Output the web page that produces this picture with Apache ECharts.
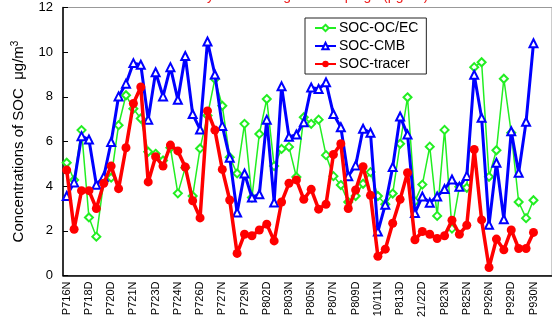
<!DOCTYPE html>
<html><head><meta charset="utf-8">
<script src="https://cdn.jsdelivr.net/npm/echarts@6/dist/echarts.min.js"></script>
<style>html,body{margin:0;padding:0;background:#fff}#c{width:552px;height:320px}</style>
</head><body><div id="c"></div>
<script>
const tickLabels = ['P716N','P718D','P720D','P721N','P723D','P724N','P726D','P727N','P729N','P802D','P803N','P805N','P807N','P809D','10/11N','P813D','21/22D','P823N','P825N','P926N','P929D','P930N'];
const socOCEC = [5.05,4.28,6.51,2.6,1.74,4.2,4.38,6.73,8.07,7.47,7.03,5.54,5.45,5.15,5.72,3.68,4.83,3.56,5.69,7.16,8.8,7.6,5.3,4.57,6.79,3.49,6.34,7.9,4.9,5.67,5.76,4.41,7.09,6.79,6.98,5.39,4.45,4.05,3.29,3.56,4.11,4.63,3.56,3.19,3.67,5.9,7.98,3.32,4.07,5.77,2.67,6.52,2.1,3.97,3.93,9.33,9.55,4.42,5.61,8.81,6.39,3.29,2.57,3.37];
const socCMB = [3.56,4.17,6.24,6.09,4.06,4.42,5.98,8.02,8.59,9.51,9.44,6.98,9.1,8.02,9.33,7.87,9.83,7.23,6.54,10.48,9.0,6.7,5.27,2.82,4.57,3.49,3.64,6.98,3.27,8.47,6.21,6.31,6.86,8.42,8.35,8.65,7.23,6.64,4.45,4.93,6.57,6.39,1.97,3.17,4.86,7.12,6.31,2.8,3.54,3.26,3.54,3.87,4.3,3.97,4.46,8.99,7.06,2.27,5.05,2.52,6.46,4.6,6.88,10.4];
const socTracer = [4.72,2.07,3.8,3.8,3.0,4.13,4.9,3.89,5.72,7.7,8.44,4.19,5.32,4.9,5.84,5.58,4.86,3.35,2.58,7.37,6.51,4.75,3.38,0.99,1.85,1.78,2.04,2.3,1.55,3.29,4.13,4.28,3.41,3.86,2.97,3.19,5.42,5.9,3.0,3.83,4.87,3.59,0.86,1.18,2.34,3.41,4.6,1.6,1.97,1.85,1.66,1.78,2.48,1.85,2.25,5.64,2.49,0.36,1.63,1.15,2.04,1.21,1.21,1.93];
const yTicks = [0,2,4,6,8,10,12];

const nCat = 66;
const categories = [];
for (let i = 0; i < nCat; i++) categories.push(i % 3 === 0 && tickLabels[i/3] ? tickLabels[i/3] : '');

const font = 'Liberation Sans, Arial, sans-serif';
const chart = echarts.init(document.getElementById('c'));
chart.setOption({
  animation: false,
  backgroundColor: '#fff',
  textStyle: {fontFamily: font},
  graphic: [{
    type: 'text', left: 183, top: -11,
    style: {text: 'Daily SOC during the campaign (μg/m³)', fill: '#ee2222', font: '14px ' + font}
  }],
  grid: {left: 63, top: 7.5, bottom: 43.5, right: -1, show: true, borderColor: '#999', borderWidth: 1},
  legend: {
    orient: 'vertical', left: 305, top: 18,
    backgroundColor: '#fff', borderColor: '#222', borderWidth: 1,
    padding: [2, 8, 2, 9], itemGap: 2, itemWidth: 21, itemHeight: 8,
    textStyle: {fontSize: 14, lineHeight: 16, color: '#000', fontFamily: font, padding: [0, 0, 0, -2]},
    data: ['SOC-OC/EC','SOC-CMB','SOC-tracer']
  },
  xAxis: {
    type: 'category', data: categories, boundaryGap: true,
    axisLine: {lineStyle: {color: '#000', width: 1.5}},
    axisTick: {inside: true, length: 5, interval: 1, lineStyle: {color: '#000'}},
    axisLabel: {interval: 2, rotate: 90, fontSize: 11, color: '#000', margin: 6, fontFamily: font},
    splitLine: {show: false}
  },
  yAxis: {
    type: 'value', min: yTicks[0], max: yTicks[yTicks.length-1], interval: 2,
    name: 'Concentrations of SOC  μg/m{sup|3}', nameLocation: 'middle', nameGap: 35,
    nameTextStyle: {fontSize: 15, color: '#000', fontFamily: font, rich: {sup: {fontSize: 10, verticalAlign: 'top', padding: [0,0,8,0]}}},
    axisLine: {show: true, lineStyle: {color: '#000', width: 1.5}},
    axisTick: {show: true, inside: true, length: 5, lineStyle: {color: '#000'}},
    axisLabel: {fontSize: 13, color: '#000', margin: 10, fontFamily: font},
    splitLine: {show: false}
  },
  series: [
    {name: 'SOC-OC/EC', type: 'line', data: socOCEC, symbol: 'emptyDiamond', symbolSize: 8, showAllSymbol: true,
     lineStyle: {color: '#22ee22', width: 1.5}, itemStyle: {color: '#22ee22', borderWidth: 1.2}, z: 2},
    {name: 'SOC-CMB', type: 'line', data: socCMB, symbol: 'emptyTriangle', symbolSize: 8, showAllSymbol: true,
     lineStyle: {color: '#0000ff', width: 3}, itemStyle: {color: '#0000ff', borderWidth: 1.5}, z: 3},
    {name: 'SOC-tracer', type: 'line', data: socTracer, symbol: 'circle', symbolSize: 9, showAllSymbol: true,
     lineStyle: {color: '#ff0000', width: 3.5}, itemStyle: {color: '#ff0000'}, z: 4}
  ]
});
</script></body></html>
